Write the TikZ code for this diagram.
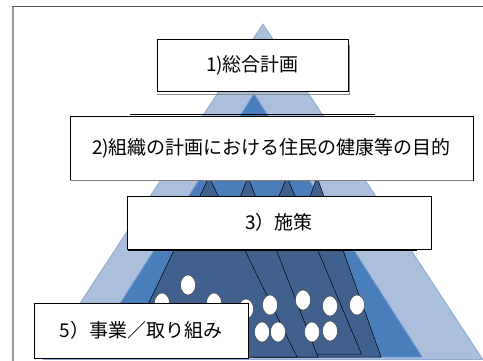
\documentclass[tikz,border=0pt]{standalone}
\usepackage{fontspec}
\newfontfamily\jp{Noto Sans CJK JP}
\usetikzlibrary{shapes.geometric}
\definecolor{lightb}{HTML}{A9BFDB}
\definecolor{lightbline}{HTML}{8FAAD2}
\definecolor{midb}{HTML}{4A7EBB}
\definecolor{midbline}{HTML}{6A93C8}
\definecolor{darkb}{HTML}{40618E}
\begin{document}
\begin{tikzpicture}[x=1pt,y=-1pt,
  box/.style={draw=black, line width=0.8pt, fill=white, inner sep=0pt,
    font=\jp\fontsize{19}{21}\selectfont},
  dot/.style={ellipse, draw=black!80, line width=0.4pt, fill=white,
    minimum width=15pt, minimum height=20pt, inner sep=0pt},
  outer/.style={fill=lightb, draw=lightbline, line width=0.8pt},
  middle/.style={fill=midb, draw=midbline, line width=0.8pt},
  inner/.style={fill=darkb, draw=black, line width=0.5pt},
  edge/.style={line width=1pt, draw=black}]
\useasboundingbox (0,0) rectangle (483,361);
\clip (0,0) rectangle (483,361);
\fill[white] (0,0) rectangle (483,361);
% frame
\draw[draw=black!40, line width=1.6pt] (13,361) -- (13,6.5);
\draw[draw=black!65, line width=1.8pt] (12.2,6.5) -- (483,6.5);
% triangles
\draw[outer] (263,24) -- (482.8,359.5) -- (43.2,359.5) -- cycle;
\draw[middle] (254,94) -- (422,357) -- (86,357) -- cycle;
\draw[inner] (317,177) -- (381,357) -- (253,357) -- cycle;
\draw[inner] (287,177) -- (361.5,354) -- (212.5,354) -- cycle;
\draw[inner] (248,177) -- (318,357) -- (178,357) -- cycle;
\draw[inner] (209,177) -- (297,357) -- (123,357) -- cycle;
% dots
\node[dot] (c1) at (188,285) {};
\node[dot] (c2) at (162,303) {};
\node[dot] (c3) at (214,303) {};
\node[dot] (c4) at (246,309) {};
\node[dot] (c5) at (270,305) {};
\node[dot] (c6) at (303,300) {};
\node[dot] (c7) at (330,306) {};
\node[dot] (c8) at (357,305) {};
\node[dot] (c9) at (262,332) {};
\node[dot] (c10) at (278,332) {};
\node[dot] (c11) at (312,332) {};
\node[dot] (c12) at (330,331) {};
% hidden edges
\draw[draw=black!45, line width=0.8pt] (157,94.5) -- (349,94.5) -- (349,45);
\draw[edge] (130,114.5) -- (375,114.5);
\draw[edge] (128,251) -- (417,251);
% boxes
\node[box, minimum width=191pt, minimum height=52pt] (b1) at (252.5,65) {1)総合計画};
\node[box, minimum width=403pt, minimum height=64pt] (b2) at (271.5,148) {2)組織の計画における住民の健康等の目的};
\draw[draw=black!50, line width=1pt] (b2.south west) -- (b2.south east);
\node[box, minimum width=304pt, minimum height=53pt] (b3) at (279,222.5) {3）施策};
\node[box, minimum width=214pt, minimum height=55pt] (b5) at (141,330.5) {5）事業／取り組み};
\end{tikzpicture}
\end{document}
